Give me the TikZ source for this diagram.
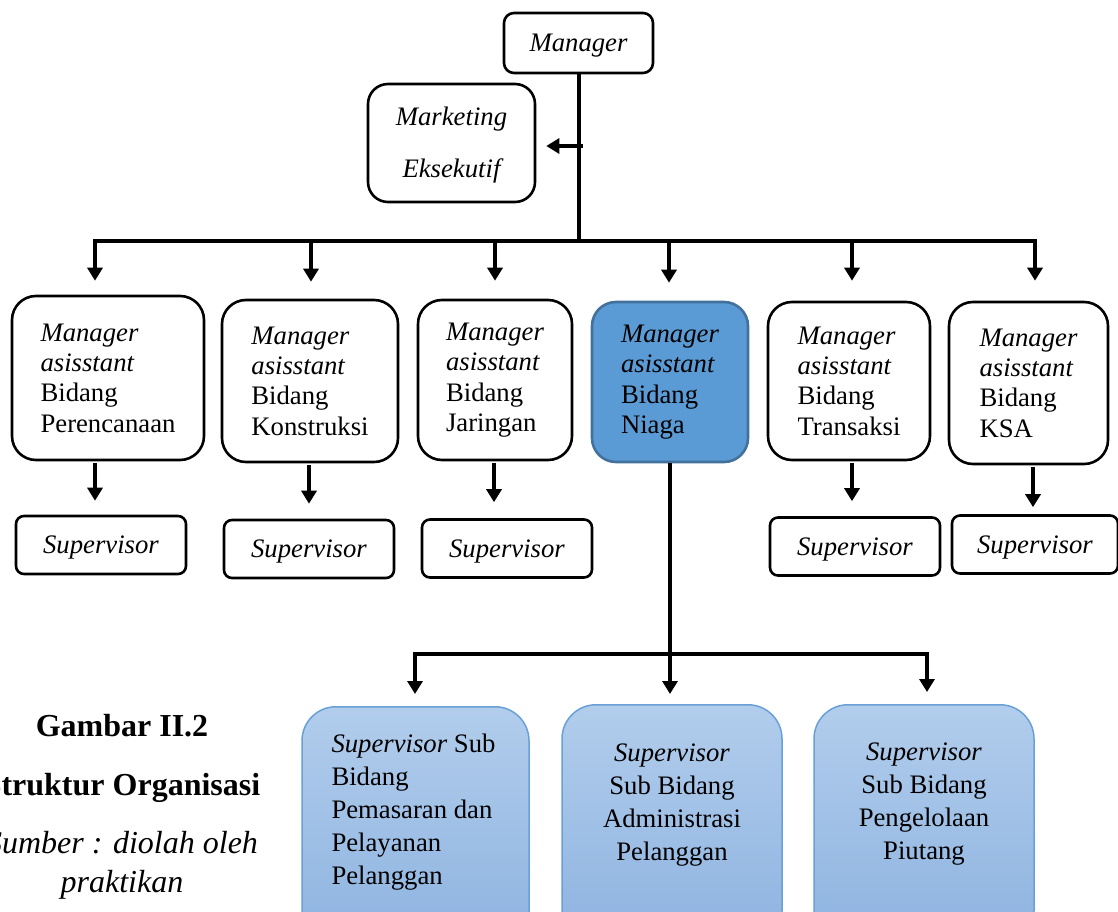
\documentclass[tikz,border=0pt]{standalone}
\usepackage{fontspec}
\setmainfont{Liberation Serif}
\usetikzlibrary{arrows.meta}
\definecolor{niaga}{RGB}{91,155,213}
\definecolor{niagaborder}{RGB}{65,113,156}
\definecolor{subtop}{RGB}{178,205,236}
\definecolor{subbot}{RGB}{141,179,224}
\definecolor{subborder}{RGB}{105,160,215}
\begin{document}
\begin{tikzpicture}[x=1pt,y=-1pt,
  every node/.style={font=\fontsize{26.7pt}{30.4pt}\selectfont, inner sep=0pt},
  box/.style={draw, line width=2.6pt, rounded corners=#1},
  box/.default=24pt,
  mbox/.style={box=24pt, align=left},
  sbox/.style={box=8pt, minimum height=58pt, text depth=0pt},
  nbox/.style={draw=subborder, line width=1.5pt, rounded corners=34pt, top color=subtop, bottom color=subbot, minimum height=240pt, anchor=north},
  conn/.style={line width=4pt, line cap=rect},
  arr/.style={line width=4pt, -{Triangle[width=15pt,length=13pt]}},
  captb/.style={font=\fontsize{32pt}{36pt}\selectfont\bfseries},
]
\useasboundingbox (0,0) rectangle (1118,912);
\clip (0,0) rectangle (1118,912);

% top
\node[box=10pt, minimum width=149pt, minimum height=60pt, text depth=0pt] (mgr) at (578.5,43) {\itshape Manager};
\node[box=20pt, minimum width=167pt, minimum height=118pt, align=center, font=\fontsize{26.7pt}{52pt}\selectfont\itshape] (mkt) at (451.5,143) {\rule{0pt}{22pt}Marketing\\Eksekutif};

% managers asisstant
\node[mbox, minimum width=192pt, minimum height=164pt] (m1) at (108,378) {\textit{Manager}\\\textit{asisstant}\\Bidang\\Perencanaan};
\node[mbox, minimum width=176pt, minimum height=162pt] (m2) at (310,381) {\textit{Manager}\\\textit{asisstant}\\Bidang\\Konstruksi};
\node[mbox, minimum width=154pt, minimum height=160pt] (m3) at (495,380) {\textit{Manager}\\\textit{asisstant}\\Bidang\\Jaringan};
\node[mbox, fill=niaga, draw=niagaborder, minimum width=156pt, minimum height=160pt] (m4) at (670,382) {\textit{Manager}\\\textit{asisstant}\\Bidang\\Niaga};
\node[mbox, minimum width=162pt, minimum height=158pt] (m5) at (849,381) {\textit{Manager}\\\textit{asisstant}\\Bidang\\Transaksi};
\node[mbox, minimum width=159pt, minimum height=162pt] (m6) at (1028.5,383) {\textit{Manager}\\\textit{asisstant}\\Bidang\\KSA};

% supervisors
\node[sbox, minimum width=170pt] (s1) at (101,545) {\textit{Supervisor}};
\node[sbox, minimum width=170pt] (s2) at (309,549) {\textit{Supervisor}};
\node[sbox, minimum width=170pt] (s3) at (507,548.5) {\textit{Supervisor}};
\node[sbox, minimum width=170pt] (s5) at (855,546.5) {\textit{Supervisor}};
\node[sbox, minimum width=166pt] (s6) at (1035,544.5) {\textit{Supervisor}};

% sub bidang boxes
\node[nbox, minimum width=227pt] (n1) at (415.5,706) {};
\node[nbox, minimum width=220pt] (n2) at (672,704) {};
\node[nbox, minimum width=220pt] (n3) at (924,704) {};
\node[align=left, font=\fontsize{26.7pt}{33pt}\selectfont] (n1t) at (413.5,812) {\textit{Supervisor} Sub\\Bidang\\Pemasaran dan\\Pelayanan\\Pelanggan};
\node[align=center, font=\fontsize{26.7pt}{33pt}\selectfont] (n2t) at (672,805.5) {\textit{Supervisor}\\Sub Bidang\\Administrasi\\Pelanggan};
\node[align=center, font=\fontsize{26.7pt}{33pt}\selectfont] (n3t) at (924,804.5) {\textit{Supervisor}\\Sub Bidang\\Pengelolaan\\Piutang};

% caption
\node[captb] (cap1) at (122,726) {Gambar II.2};
\node[captb] (cap2) at (122,788) {Struktur Organisasi};
\node[font=\fontsize{32pt}{39pt}\selectfont\itshape, align=center] (cap3) at (122,865.5) {Sumber : diolah oleh\\praktikan};

% connectors
\coordinate (b1) at (95,241);
\coordinate (b2) at (311,241);
\coordinate (b3) at (495,241);
\coordinate (b4) at (669,241);
\coordinate (b5) at (852,241);
\coordinate (b6) at (1035,241);
\draw[conn] (mgr.south) -- (mgr.south |- b1);
\draw[conn] (b1) -- (b6);
\coordinate (mk) at (583,146);
\draw[arr, shorten >=10pt] (mk) -- (mk -| mkt.east);

\draw[arr, shorten >=14pt] (b1) -- (b1 |- m1.north);
\draw[arr, shorten >=17pt] (b2) -- (b2 |- m2.north);
\draw[arr, shorten >=18pt] (b3) -- (b3 |- m3.north);
\draw[arr, shorten >=18pt] (b4) -- (b4 |- m4.north);
\draw[arr, shorten >=20pt] (b5) -- (b5 |- m5.north);
\draw[arr, shorten >=20pt] (b6) -- (b6 |- m6.north);

\draw[arr, shorten <=2pt, shorten >=14pt] (b1 |- m1.south) -- (b1 |- s1.north);
\draw[arr, shorten <=2pt, shorten >=15pt] ([xshift=-2pt]b2 |- m2.south) -- ([xshift=-2pt]b2 |- s2.north);
\draw[arr, shorten <=2pt, shorten >=16pt] ([xshift=-1pt]b3 |- m3.south) -- ([xshift=-1pt]b3 |- s3.north);
\draw[arr, shorten <=2pt, shorten >=15pt] (b5 |- m5.south) -- (b5 |- s5.north);
\draw[arr, shorten <=2pt, shorten >=7pt] ([xshift=-2pt]b6 |- m6.south) -- ([xshift=-2pt]b6 |- s6.north);

\coordinate (c1) at (415,654);
\coordinate (c3) at (927,654);
\draw[conn] (c1) -- (c3);
\draw[arr, shorten >=10pt] (m4.south) -- (m4.south |- n2.north);
\draw[arr, shorten >=12pt] (c1) -- (c1 |- n1.north);
\draw[arr, shorten >=12pt] (c3) -- (c3 |- n3.north);
\end{tikzpicture}
\end{document}
